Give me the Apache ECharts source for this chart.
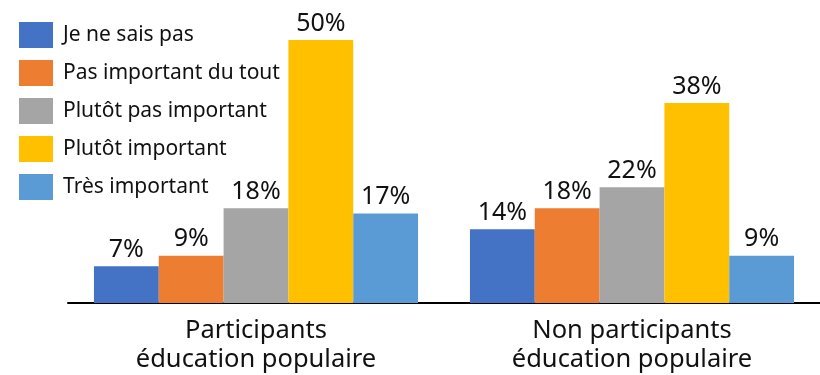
<!DOCTYPE html>
<html><head><meta charset="utf-8">
<script src="https://cdn.jsdelivr.net/npm/echarts@6/dist/echarts.min.js"></script>
<style>html,body{margin:0;padding:0;background:#fff}#c{width:820px;height:375px}</style>
</head><body><div id="c"></div>
<script>
const categories = ['Participants\néducation populaire', 'Non participants\néducation populaire'];
const seriesNames = ['Je ne sais pas', 'Pas important du tout', 'Plutôt pas important', 'Plutôt important', 'Très important'];
const jeNeSaisPas = [7, 14];
const pasImportantDuTout = [9, 18];
const plutotPasImportant = [18, 22];
const plutotImportant = [50, 38];
const tresImportant = [17, 9];
const colors = ['#4472C4', '#ED7D31', '#A5A5A5', '#FFC000', '#5B9BD5'];
const values = [jeNeSaisPas, pasImportantDuTout, plutotPasImportant, plutotImportant, tresImportant];
const FONT = 'Noto Sans';
const chart = echarts.init(document.getElementById('c'));
chart.setOption({
  animation: false,
  textStyle: {fontFamily: FONT},
  legend: {
    orient: 'vertical', left: 19, top: 22, padding: 0,
    itemWidth: 34, itemHeight: 26, itemGap: 12,
    icon: 'rect',
    textStyle: {fontFamily: FONT, fontSize: 21, color: '#111', padding: [0,0,0,5]},
    data: seriesNames
  },
  grid: {left: 68, right: -3, top: 40, bottom: 72},
  xAxis: {
    type: 'category', data: categories,
    axisLine: {lineStyle: {color: '#000', width: 2}},
    axisTick: {show: false},
    axisLabel: {fontFamily: FONT, fontSize: 25.5, color: '#111', lineHeight: 29, margin: 13}
  },
  yAxis: {type: 'value', min: 0, max: 50, show: false, splitLine: {show: false}},
  series: seriesNames.map((n, i) => ({
    name: n, type: 'bar', data: values[i],
    barGap: '0%', barCategoryGap: '13.8%',
    itemStyle: {color: colors[i]},
    label: {show: true, position: 'top', distance: 4, formatter: '{c}%', fontFamily: FONT, fontSize: 25, color: '#111'}
  }))
});
</script></body></html>
